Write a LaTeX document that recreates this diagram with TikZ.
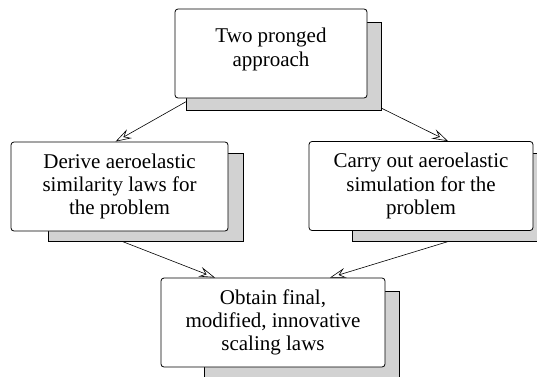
\documentclass[tikz,border=0pt]{standalone}
\usepackage{fontspec}
\setmainfont{Liberation Serif}
\usetikzlibrary{arrows.meta,backgrounds}
\tikzset{box/.style={draw, fill=white, rounded corners=3pt, line width=0.8pt, align=center, inner sep=0pt, minimum height=89, font=\fontsize{21}{23.3}\selectfont}}
\tikzset{shade/.style={draw, fill=gray!35, line width=0.8pt}}
\tikzset{arrow/.style={-{Stealth[open, length=16pt, width=10pt, inset=6pt]}, line width=0.6pt}}

\begin{document}
\begin{tikzpicture}[x=1pt, y=1pt]
    \useasboundingbox (0, 0) rectangle (537, 376);
    \node[box, minimum width=192] (two) at (271, 322.5) {Two pronged\\approach\\[-11pt]\mbox{}};
    \node[box, minimum width=217] (derive) at (119.5, 189.5) {Derive aeroelastic\\similarity laws for\\the problem};
    \node[box, minimum width=224] (carry) at (421, 190) {Carry out aeroelastic\\simulation for the\\problem};
    \node[box, minimum width=224] (obtain) at (273, 53.5) {Obtain final,\\modified, innovative\\scaling laws};
    \begin{scope}[on background layer]
        \draw[arrow] (two) -- ([xshift=-4]derive.north);
        \draw[arrow] (two) -- ([xshift=27]carry.north);
        \draw[arrow] ([xshift=-23]derive.south) -- ([xshift=-58]obtain.north);
        \draw[arrow] ([xshift=62]carry.south) -- ([xshift=57]obtain.north);
        \draw[shade] ([shift={(14, -14)}]two.north east) rectangle ++(-195, -88);
        \draw[shade] ([shift={(15, -12)}]derive.north east) rectangle ++(-195, -88);
        \draw[shade] ([shift={(14, -12)}]carry.north east) rectangle ++(-195, -88);
        \draw[shade] ([shift={(14, -14)}]obtain.north east) rectangle ++(-195, -88);
    \end{scope}
\end{tikzpicture}
\end{document}
